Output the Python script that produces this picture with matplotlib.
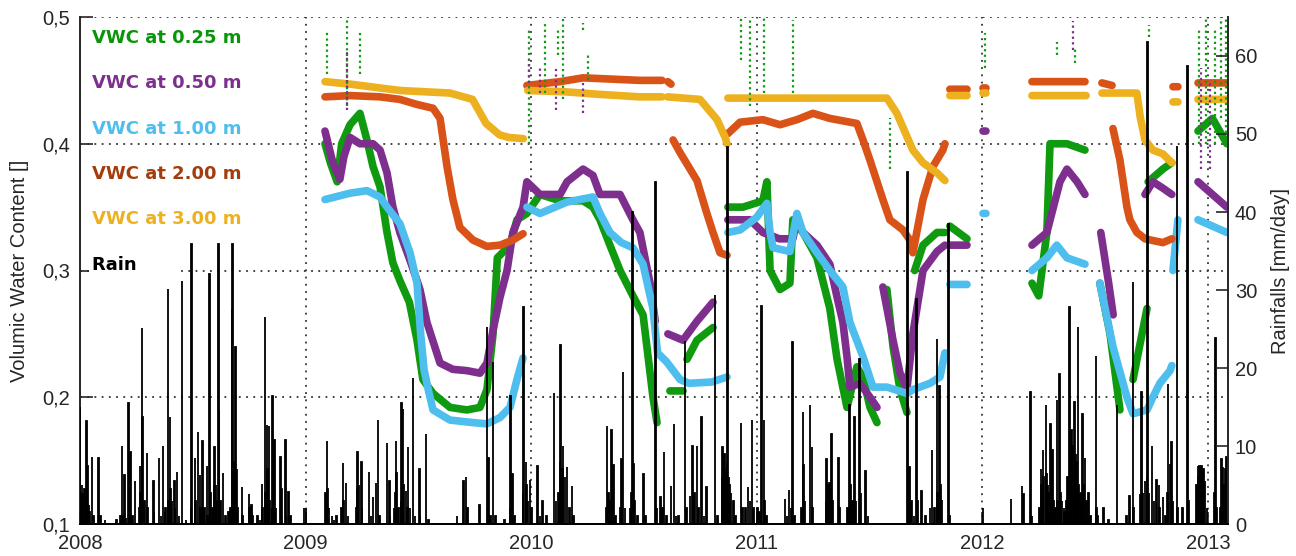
import numpy as np
import matplotlib.pyplot as plt

nan = np.nan

# ---- soil moisture series (decimal year, VWC), nan = gap in record ----
t025 = [2009.086, 2009.11, 2009.14, 2009.16, 2009.197, 2009.241, 2009.272, 2009.299, 2009.330, 2009.361,
        2009.387, 2009.418, 2009.46, 2009.494, 2009.52, 2009.565, 2009.640, 2009.715, 2009.773, 2009.804,
        2009.831, 2009.85, 2009.906, 2009.937, 2009.981, 2010.039, 2010.128, 2010.230, 2010.274, 2010.305,
        2010.349, 2010.394, 2010.451, 2010.496, 2010.540, 2010.558, nan,
        2010.615, 2010.673, nan, 2010.691, 2010.735, 2010.806, nan,
        2010.872, 2010.939, 2011.027, 2011.045, 2011.059, 2011.103, 2011.147, 2011.160, 2011.205, 2011.267,
        2011.324, 2011.356, 2011.400, 2011.444, 2011.471, 2011.502, 2011.533, nan,
        2011.577, 2011.604, 2011.635, 2011.666, nan, 2011.70, 2011.737, 2011.799, 2011.834, nan,
        2011.856, 2011.932, nan, 2012.220, 2012.25, 2012.286, 2012.30, 2012.375, 2012.455, nan,
        2012.521, 2012.566, 2012.610, nan, 2012.668, 2012.730, nan, 2012.735, 2012.80, 2012.840, nan,
        2012.956, 2013.02, 2013.084]
v025 = [0.400, 0.385, 0.370, 0.400, 0.415, 0.424, 0.403, 0.382, 0.366, 0.330,
        0.306, 0.292, 0.275, 0.245, 0.214, 0.203, 0.192, 0.190, 0.192, 0.206,
        0.250, 0.310, 0.320, 0.340, 0.345, 0.360, 0.355, 0.355, 0.350, 0.340,
        0.320, 0.300, 0.280, 0.265, 0.200, 0.180, nan,
        0.205, 0.205, nan, 0.230, 0.245, 0.255, nan,
        0.350, 0.350, 0.355, 0.370, 0.300, 0.285, 0.290, 0.340, 0.330, 0.310,
        0.270, 0.230, 0.192, 0.224, 0.216, 0.192, 0.180, nan,
        0.285, 0.240, 0.206, 0.188, nan, 0.300, 0.320, 0.330, 0.330, nan,
        0.335, 0.325, nan, 0.290, 0.280, 0.330, 0.400, 0.400, 0.395, nan,
        0.290, 0.250, 0.190, nan, 0.214, 0.270, nan, 0.370, 0.380, 0.385, nan,
        0.410, 0.420, 0.400]

t050 = [2009.086, 2009.10, 2009.121, 2009.152, 2009.17, 2009.197, 2009.241, 2009.299, 2009.330, 2009.361,
        2009.387, 2009.418, 2009.463, 2009.494, 2009.507, 2009.538, 2009.596, 2009.653, 2009.715, 2009.773,
        2009.804, 2009.831, 2009.862, 2009.893, 2009.919, 2009.964, 2009.981, 2010.039, 2010.128, 2010.159,
        2010.230, 2010.274, 2010.305, 2010.394, 2010.451, 2010.482, 2010.527, 2010.55, nan,
        2010.606, 2010.673, 2010.735, 2010.806, nan,
        2010.872, 2010.970, 2011.027, 2011.10, 2011.160, 2011.178, 2011.205, 2011.267, 2011.324, 2011.356,
        2011.382, 2011.400, 2011.413, 2011.457, 2011.502, 2011.533, nan,
        2011.559, 2011.604, 2011.635, 2011.666, 2011.692, 2011.737, 2011.799, 2011.834, nan,
        2011.856, 2011.932, nan, 2012.003, 2012.016, nan,
        2012.220, 2012.286, 2012.344, 2012.375, 2012.42, 2012.455, nan,
        2012.525, 2012.56, 2012.58, nan, 2012.721, 2012.756, 2012.80, 2012.840, nan,
        2012.956, 2013.02, 2013.084]
v050 = [0.410, 0.400, 0.385, 0.372, 0.390, 0.405, 0.400, 0.400, 0.395, 0.377,
        0.350, 0.330, 0.308, 0.292, 0.285, 0.259, 0.227, 0.222, 0.221, 0.219,
        0.227, 0.253, 0.279, 0.300, 0.330, 0.350, 0.370, 0.360, 0.360, 0.370,
        0.380, 0.375, 0.360, 0.360, 0.340, 0.330, 0.290, 0.260, nan,
        0.250, 0.245, 0.260, 0.275, nan,
        0.340, 0.340, 0.330, 0.325, 0.325, 0.340, 0.330, 0.320, 0.305, 0.279,
        0.259, 0.232, 0.208, 0.211, 0.200, 0.192, nan,
        0.287, 0.245, 0.219, 0.207, 0.250, 0.300, 0.315, 0.320, nan,
        0.320, 0.320, nan, 0.410, 0.410, nan,
        0.320, 0.330, 0.370, 0.380, 0.370, 0.360, nan,
        0.330, 0.290, 0.265, nan, 0.360, 0.370, 0.365, 0.360, nan,
        0.370, 0.360, 0.350]

t100 = [2009.086, 2009.197, 2009.272, 2009.330, 2009.361, 2009.418, 2009.463, 2009.494, 2009.51, 2009.525,
        2009.545, 2009.565, 2009.640, 2009.742, 2009.804, 2009.862, 2009.906, 2009.937, 2009.964, nan,
        2009.981, 2010.039, 2010.159, 2010.274, 2010.305, 2010.349, 2010.40, 2010.451, 2010.496, 2010.527,
        2010.54, 2010.56, 2010.60, 2010.66, 2010.70, 2010.80, 2010.868, nan,
        2010.872, 2010.926, 2011.0, 2011.045, 2011.059, 2011.072, 2011.147, 2011.178, 2011.205, 2011.267,
        2011.324, 2011.382, 2011.413, 2011.471, 2011.515, 2011.577, 2011.666, 2011.692, 2011.768, 2011.812,
        2011.834, nan, 2011.856, 2011.932, nan, 2012.003, 2012.016, nan,
        2012.220, 2012.286, 2012.33, 2012.375, 2012.455, nan,
        2012.521, 2012.579, 2012.641, 2012.668, 2012.730, 2012.756, 2012.787, 2012.832, 2012.840, nan,
        2012.845, 2012.867, nan, 2012.956, 2013.084]
v100 = [0.356, 0.361, 0.363, 0.358, 0.350, 0.337, 0.314, 0.290, 0.250, 0.222,
        0.205, 0.190, 0.182, 0.180, 0.179, 0.184, 0.192, 0.214, 0.231, nan,
        0.350, 0.345, 0.354, 0.358, 0.345, 0.330, 0.322, 0.318, 0.305, 0.280,
        0.270, 0.235, 0.228, 0.214, 0.211, 0.212, 0.216, nan,
        0.330, 0.332, 0.342, 0.353, 0.330, 0.318, 0.315, 0.345, 0.330, 0.314,
        0.300, 0.287, 0.259, 0.232, 0.208, 0.208, 0.203, 0.206, 0.211, 0.216,
        0.235, nan, 0.289, 0.289, nan, 0.345, 0.345, nan,
        0.300, 0.310, 0.320, 0.310, 0.305, nan,
        0.290, 0.240, 0.200, 0.187, 0.190, 0.200, 0.211, 0.221, 0.225, nan,
        0.300, 0.340, nan, 0.340, 0.330]

t200 = [2009.086, 2009.20, 2009.33, 2009.418, 2009.494, 2009.565, 2009.596, 2009.627, 2009.653, 2009.684,
        2009.742, 2009.804, 2009.862, 2009.919, 2009.964, nan,
        2009.981, 2010.128, 2010.230, 2010.482, 2010.58, nan, 2010.606, 2010.62, nan,
        2010.629, 2010.660, 2010.735, 2010.779, 2010.806, 2010.837, 2010.868, nan,
        2010.872, 2010.926, 2011.027, 2011.103, 2011.178, 2011.249, 2011.324, 2011.444, 2011.471, 2011.502,
        2011.559, 2011.590, 2011.648, 2011.679, 2011.692, 2011.737, 2011.781, 2011.825, 2011.834, nan,
        2011.856, 2011.932, nan, 2012.003, 2012.016, nan, 2012.220, 2012.455, nan,
        2012.530, 2012.575, nan, 2012.579, 2012.610, 2012.641, 2012.654, 2012.685, 2012.70, 2012.721,
        2012.80, 2012.840, nan, 2012.845, 2012.867, nan, 2012.956, 2013.084]
v200 = [0.437, 0.438, 0.437, 0.435, 0.431, 0.428, 0.420, 0.382, 0.356, 0.334,
        0.324, 0.319, 0.320, 0.324, 0.329, nan,
        0.446, 0.449, 0.452, 0.450, 0.450, nan, 0.449, 0.447, nan,
        0.403, 0.393, 0.371, 0.345, 0.330, 0.314, 0.312, nan,
        0.408, 0.417, 0.419, 0.415, 0.419, 0.424, 0.420, 0.416, 0.403, 0.387,
        0.356, 0.340, 0.332, 0.324, 0.314, 0.356, 0.382, 0.395, 0.400, nan,
        0.443, 0.443, nan, 0.444, 0.444, nan, 0.449, 0.449, nan,
        0.448, 0.446, nan, 0.412, 0.387, 0.350, 0.340, 0.330, 0.328, 0.325,
        0.322, 0.325, nan, 0.445, 0.445, nan, 0.448, 0.448]

t300 = [2009.086, 2009.20, 2009.33, 2009.42, 2009.64, 2009.74, 2009.80, 2009.86, 2009.90, 2009.965, nan,
        2009.985, 2010.15, 2010.30, 2010.48, 2010.58, nan, 2010.605, 2010.748, 2010.824, 2010.86, 2010.868, nan,
        2010.872, 2011.0, 2011.2, 2011.4, 2011.577, 2011.621, 2011.692, 2011.737, 2011.799, 2011.834, nan,
        2011.856, 2011.932, nan, 2012.003, 2012.016, nan, 2012.220, 2012.46, nan,
        2012.530, 2012.685, 2012.70, 2012.721, 2012.756, 2012.80, 2012.840, nan,
        2012.845, 2012.867, nan, 2012.956, 2013.084]
v300 = [0.449, 0.447, 0.444, 0.442, 0.440, 0.435, 0.416, 0.407, 0.405, 0.404, nan,
        0.442, 0.441, 0.439, 0.437, 0.437, nan, 0.437, 0.435, 0.419, 0.405, 0.400, nan,
        0.436, 0.436, 0.436, 0.436, 0.436, 0.424, 0.395, 0.385, 0.377, 0.371, nan,
        0.438, 0.438, nan, 0.440, 0.440, nan, 0.438, 0.438, nan,
        0.440, 0.440, 0.421, 0.403, 0.395, 0.392, 0.385, nan,
        0.433, 0.433, nan, 0.435, 0.435]

# short wet spikes of the shallow sensors (year, low, high)
spk025_t = [2009.095, 2009.183, 2009.241, 2009.99, 2010.06, 2010.12, 2010.141, 2010.23, 2010.25,
            2010.93, 2010.97, 2011.03, 2011.16, 2011.59, 2012.01, 2012.33, 2012.41, 2012.74,
            2012.96, 2012.99, 2013.03, 2013.06, 2013.08]
spk025_lo = [0.455, 0.430, 0.455, 0.400, 0.440, 0.470, 0.435, 0.490, 0.450,
             0.466, 0.430, 0.440, 0.440, 0.380, 0.460, 0.470, 0.464, 0.484,
             0.400, 0.400, 0.400, 0.420, 0.400]
spk025_hi = [0.490, 0.500, 0.490, 0.490, 0.497, 0.490, 0.500, 0.495, 0.470,
             0.500, 0.500, 0.500, 0.498, 0.420, 0.487, 0.480, 0.476, 0.494,
             0.490, 0.500, 0.490, 0.500, 0.500]
spk050_t = [2009.183, 2009.99, 2010.04, 2010.11, 2010.23, 2012.40, 2012.97, 2013.01]
spk050_lo = [0.427, 0.448, 0.440, 0.427, 0.424, 0.474, 0.380, 0.380]
spk050_hi = [0.474, 0.466, 0.460, 0.460, 0.448, 0.497, 0.460, 0.450]

# ---- daily rain (decimal year, mm/day) ----
rain_t = [2008.000, 2008.004, 2008.009, 2008.013, 2008.018, 2008.022, 2008.027, 2008.031, 2008.035, 2008.040,
          2008.044, 2008.053, 2008.058, 2008.084, 2008.089, 2008.111, 2008.160, 2008.181, 2008.186, 2008.190,
          2008.199, 2008.204, 2008.213, 2008.217, 2008.222, 2008.231, 2008.244, 2008.262, 2008.266, 2008.270,
          2008.275, 2008.279, 2008.284, 2008.297, 2008.301, 2008.324, 2008.328, 2008.350, 2008.359, 2008.368,
          2008.377, 2008.381, 2008.390, 2008.394, 2008.399, 2008.403, 2008.408, 2008.417, 2008.421, 2008.430,
          2008.439, 2008.452, 2008.470, 2008.492, 2008.496, 2008.510, 2008.514, 2008.523, 2008.532, 2008.536,
          2008.545, 2008.550, 2008.563, 2008.567, 2008.576, 2008.580, 2008.589, 2008.594, 2008.598, 2008.603,
          2008.607, 2008.612, 2008.616, 2008.621, 2008.634, 2008.643, 2008.660, 2008.669, 2008.674, 2008.678,
          2008.683, 2008.687, 2008.691, 2008.696, 2008.700, 2008.718, 2008.722, 2008.749, 2008.753, 2008.762,
          2008.766, 2008.785, 2008.798, 2008.807, 2008.811, 2008.820, 2008.824, 2008.829, 2008.833, 2008.838,
          2008.842, 2008.851, 2008.855, 2008.860, 2008.864, 2008.869, 2008.887, 2008.891, 2008.895, 2008.909,
          2008.913, 2008.926, 2008.935, 2008.993, 2009.002, 2009.090, 2009.095, 2009.099, 2009.104, 2009.117,
          2009.126, 2009.139, 2009.161, 2009.166, 2009.170, 2009.179, 2009.188, 2009.224, 2009.228, 2009.232,
          2009.237, 2009.246, 2009.250, 2009.281, 2009.290, 2009.299, 2009.312, 2009.321, 2009.326, 2009.361,
          2009.370, 2009.374, 2009.392, 2009.397, 2009.401, 2009.405, 2009.410, 2009.423, 2009.427, 2009.432,
          2009.436, 2009.445, 2009.450, 2009.454, 2009.463, 2009.476, 2009.485, 2009.503, 2009.507, 2009.534,
          2009.543, 2009.671, 2009.702, 2009.711, 2009.716, 2009.769, 2009.804, 2009.809, 2009.818, 2009.831,
          2009.840, 2009.882, 2009.906, 2009.910, 2009.919, 2009.928, 2009.964, 2009.968, 2009.977, 2009.981,
          2009.986, 2009.995, 2010.000, 2010.030, 2010.039, 2010.052, 2010.066, 2010.101, 2010.110, 2010.123,
          2010.128, 2010.132, 2010.137, 2010.141, 2010.150, 2010.159, 2010.168, 2010.181, 2010.186, 2010.332,
          2010.336, 2010.341, 2010.349, 2010.358, 2010.363, 2010.372, 2010.394, 2010.402, 2010.407, 2010.416,
          2010.438, 2010.446, 2010.451, 2010.455, 2010.460, 2010.473, 2010.496, 2010.505, 2010.553, 2010.558,
          2010.575, 2010.584, 2010.589, 2010.598, 2010.620, 2010.633, 2010.642, 2010.655, 2010.682, 2010.690,
          2010.704, 2010.717, 2010.726, 2010.735, 2010.740, 2010.757, 2010.766, 2010.779, 2010.815, 2010.824,
          2010.846, 2010.850, 2010.855, 2010.859, 2010.864, 2010.868, 2010.872, 2010.877, 2010.881, 2010.886,
          2010.895, 2010.904, 2010.930, 2010.935, 2010.952, 2010.961, 2010.970, 2010.979, 2010.984, 2011.005,
          2011.014, 2011.023, 2011.032, 2011.036, 2011.045, 2011.125, 2011.134, 2011.143, 2011.152, 2011.160,
          2011.169, 2011.200, 2011.205, 2011.209, 2011.214, 2011.236, 2011.245, 2011.249, 2011.307, 2011.311,
          2011.315, 2011.324, 2011.333, 2011.337, 2011.364, 2011.368, 2011.404, 2011.413, 2011.417, 2011.426,
          2011.435, 2011.440, 2011.457, 2011.462, 2011.484, 2011.493, 2011.670, 2011.679, 2011.684, 2011.697,
          2011.710, 2011.714, 2011.732, 2011.750, 2011.768, 2011.777, 2011.786, 2011.799, 2011.803, 2011.812,
          2011.816, 2011.821, 2011.848, 2011.853, 2012.003, 2012.127, 2012.176, 2012.184, 2012.215, 2012.220,
          2012.255, 2012.260, 2012.264, 2012.269, 2012.273, 2012.282, 2012.286, 2012.291, 2012.295, 2012.304,
          2012.308, 2012.313, 2012.317, 2012.326, 2012.331, 2012.335, 2012.344, 2012.348, 2012.353, 2012.362,
          2012.366, 2012.375, 2012.379, 2012.388, 2012.392, 2012.397, 2012.401, 2012.410, 2012.415, 2012.419,
          2012.424, 2012.428, 2012.437, 2012.441, 2012.446, 2012.450, 2012.455, 2012.463, 2012.472, 2012.480,
          2012.504, 2012.508, 2012.512, 2012.539, 2012.560, 2012.597, 2012.640, 2012.654, 2012.668, 2012.672,
          2012.699, 2012.707, 2012.712, 2012.721, 2012.730, 2012.734, 2012.739, 2012.752, 2012.761, 2012.774,
          2012.783, 2012.787, 2012.801, 2012.810, 2012.819, 2012.823, 2012.832, 2012.840, 2012.845, 2012.863,
          2012.867, 2012.889, 2012.911, 2012.915, 2012.951, 2012.956, 2012.960, 2012.964, 2012.969, 2012.973,
          2012.978, 2012.982, 2012.987, 2012.996, 2013.031, 2013.035, 2013.040, 2013.057, 2013.062, 2013.066,
          2013.071, 2013.079, 2013.084]
rain_mm = [15.0, 4.0, 5.0, 3.8, 4.5, 3.0, 13.2, 3.5, 7.4, 2.5,
           1.5, 8.6, 1.0, 8.5, 1.0, 0.5, 0.5, 1.0, 10.0, 1.0,
           6.3, 0.8, 15.5, 4.0, 9.2, 1.0, 5.5, 2.0, 7.4, 4.0,
           25.1, 13.7, 3.0, 9.1, 2.0, 5.5, 1.5, 8.5, 1.0, 10.0,
           1.5, 2.0, 30.1, 3.0, 13.7, 4.5, 3.0, 5.5, 2.0, 6.7,
           1.0, 31.2, 0.5, 2.0, 35.9, 8.5, 3.0, 11.8, 6.3, 2.0,
           10.6, 2.0, 7.4, 1.0, 32.0, 4.0, 2.0, 5.0, 9.9, 5.0,
           3.0, 35.9, 14.6, 3.0, 6.5, 1.0, 1.5, 2.0, 27.6, 35.9,
           8.0, 4.0, 22.7, 7.0, 2.0, 4.7, 1.0, 3.8, 2.0, 2.4,
           1.0, 1.0, 0.5, 5.1, 2.0, 26.5, 4.0, 12.7, 7.0, 12.6,
           3.0, 2.0, 16.4, 3.0, 10.8, 2.0, 8.6, 2.0, 4.5, 10.8,
           1.0, 4.1, 1.0, 2.0, 2.0, 4.0, 10.6, 4.5, 2.0, 1.0,
           0.5, 1.0, 2.0, 7.8, 3.0, 5.3, 1.0, 2.0, 4.5, 9.2,
           5.0, 8.0, 2.0, 6.7, 1.0, 3.4, 5.3, 13.3, 1.0, 10.4,
           5.5, 1.0, 2.0, 4.0, 10.6, 6.6, 2.0, 3.0, 15.5, 14.8,
           5.0, 4.2, 2.0, 9.9, 2.0, 18.7, 1.0, 7.0, 1.0, 11.5,
           0.5, 1.0, 5.5, 6.0, 2.0, 2.4, 25.3, 8.5, 1.0, 20.8,
           1.0, 0.5, 2.0, 16.4, 6.4, 1.0, 4.0, 27.8, 7.9, 5.0,
           3.0, 5.7, 2.0, 7.4, 1.0, 3.0, 1.0, 16.8, 3.0, 4.0,
           8.0, 22.9, 7.0, 10.0, 6.0, 7.3, 2.0, 4.9, 1.0, 2.0,
           12.6, 4.0, 3.0, 12.0, 7.6, 1.0, 2.0, 8.3, 19.5, 2.0,
           2.0, 4.0, 40.0, 7.7, 3.0, 1.0, 6.4, 1.0, 43.8, 2.0,
           3.4, 2.0, 9.2, 1.0, 4.9, 12.8, 1.0, 1.0, 23.5, 2.0,
           3.6, 10.0, 4.0, 10.0, 2.0, 13.7, 1.0, 4.7, 29.4, 1.0,
           6.0, 9.9, 8.0, 9.0, 7.0, 8.0, 48.3, 6.0, 5.0, 4.0,
           3.0, 1.0, 12.9, 2.0, 2.0, 4.7, 3.0, 13.3, 2.0, 2.0,
           1.5, 28.0, 13.3, 3.0, 1.0, 3.2, 1.0, 4.3, 2.0, 23.3,
           1.0, 2.0, 14.3, 7.6, 3.0, 15.3, 9.9, 2.0, 3.0, 8.3,
           5.0, 5.3, 11.6, 3.0, 8.5, 2.0, 2.0, 15.3, 5.0, 3.0,
           13.7, 3.0, 21.1, 4.0, 6.8, 1.0, 45.1, 7.3, 3.0, 1.0,
           28.8, 3.0, 4.2, 1.0, 2.0, 9.5, 2.0, 23.7, 4.0, 17.7,
           5.0, 3.1, 38.5, 1.0, 2.0, 3.2, 4.9, 3.8, 16.9, 1.0,
           2.0, 7.0, 5.0, 9.5, 6.0, 15.3, 6.4, 5.0, 4.0, 12.8,
           4.0, 9.5, 3.0, 2.0, 15.9, 3.0, 19.2, 4.0, 3.0, 2.0,
           1.5, 3.0, 6.0, 27.8, 9.0, 12.0, 10.0, 15.6, 9.0, 8.0,
           25.3, 5.0, 3.8, 4.0, 14.1, 5.0, 8.5, 3.0, 4.0, 1.0,
           21.5, 2.0, 1.0, 2.0, 0.5, 15.3, 1.0, 3.6, 31.0, 2.0,
           3.8, 16.9, 4.0, 5.5, 6.0, 61.8, 4.0, 10.0, 3.0, 5.6,
           5.0, 2.0, 3.4, 1.0, 4.0, 18.0, 7.7, 10.5, 3.0, 48.5,
           2.0, 2.0, 58.7, 3.0, 5.0, 7.5, 6.0, 7.5, 6.0, 7.5,
           5.0, 7.0, 5.5, 2.0, 4.0, 23.8, 2.0, 2.0, 8.3, 7.2,
           5.0, 7.0, 8.6]

year_ticks = [2008, 2009, 2010, 2011, 2012, 2013]
vwc_ticks = [0.1, 0.2, 0.3, 0.4, 0.5]
vwc_ticklabels = ['0,1', '0,2', '0,3', '0,4', '0,5']
rain_ticks = [0, 10, 20, 30, 40, 50, 60]

labels = ['VWC at 0.25 m', 'VWC at 0.50 m', 'VWC at 1.00 m', 'VWC at 2.00 m', 'VWC at 3.00 m', 'Rain']
colors = ['#109a10', '#7e2f8e', '#4dbeee', '#d95319', '#edb120']
text_colors = ['#0a940a', '#7e2f8e', '#4dbeee', '#a33d0e', '#edb120', 'black']

plt.rcParams['font.family'] = ['Liberation Sans', 'DejaVu Sans']
axis_col = '#262626'

fig = plt.figure(figsize=(12.96, 5.56), dpi=100)
ax = fig.add_axes([80/1296, 32/556, 1148/1296, 507/556])

series = [(t025, v025), (t050, v050), (t100, v100), (t200, v200), (t300, v300)]
for (t, v), c in zip(series, colors):
    ax.plot(t, v, color=c, lw=5.5, solid_capstyle='round', solid_joinstyle='round')

ax.vlines(spk025_t, spk025_lo, spk025_hi, colors=colors[0], linestyles=(0, (1, 1.5)), lw=1.6)
ax.vlines(spk050_t, spk050_lo, spk050_hi, colors=colors[1], linestyles=(0, (1, 1.5)), lw=1.6)

ax.set_xlim(2008, 2013.089)
ax.set_ylim(0.1, 0.5)
ax.set_xticks(year_ticks)
ax.set_xticklabels([str(y) for y in year_ticks])
ax.set_yticks(vwc_ticks)
ax.set_yticklabels(vwc_ticklabels)
ax.grid(True, color='#333333', linestyle=(0, (1, 3)), lw=1.3)
ax.tick_params(direction='in', length=9, width=1.2, labelsize=14.5, colors=axis_col, pad=7)
ax.set_ylabel('Volumic Water Content []', fontsize=14.5, color=axis_col, labelpad=10)
ax.spines['top'].set_visible(False)
ax.spines['right'].set_visible(False)
for s in ['left', 'bottom']:
    ax.spines[s].set_color(axis_col)
    ax.spines[s].set_linewidth(1.4)

# labels in place of a legend box, white background hides the grid
for i, (lab, tc) in enumerate(zip(labels, text_colors)):
    ax.text(0.0105, 0.959 - i * 0.0896, lab + '      ', transform=ax.transAxes, color=tc,
            fontsize=13, fontweight='bold', family='DejaVu Sans', va='center', ha='left',
            bbox=dict(facecolor='white', edgecolor='none', pad=2))

ax2 = ax.twinx()
ax2.bar(rain_t, rain_mm, width=0.004, color='black', edgecolor='black', linewidth=1.3)
ax2.set_ylim(0, 65)
ax2.set_yticks(rain_ticks)
ax2.tick_params(direction='in', length=9, width=1.2, labelsize=14.5, colors=axis_col, pad=5)
ax2.set_ylabel('Rainfalls [mm/day]', fontsize=14.5, color=axis_col, labelpad=10)
ax2.spines['top'].set_visible(False)
ax2.spines['left'].set_visible(False)
ax2.spines['right'].set_color(axis_col)
ax2.spines['right'].set_linewidth(1.4)
ax2.spines['bottom'].set_linewidth(1.4)

fig.savefig('out.png', dpi=100)
